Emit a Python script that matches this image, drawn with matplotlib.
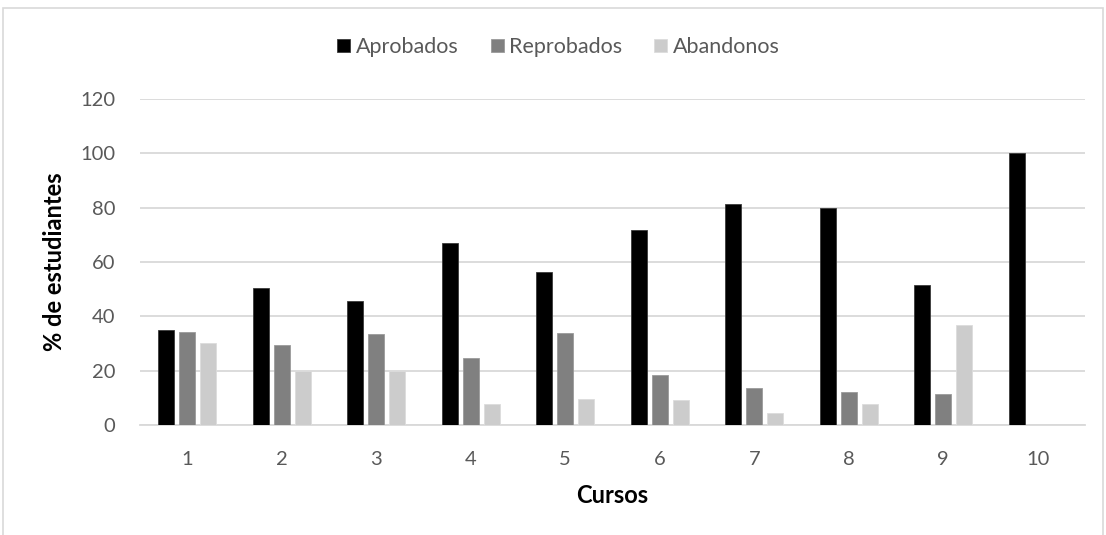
import matplotlib.pyplot as plt
import matplotlib.patches as mpatches
import numpy as np

cursos = ['1', '2', '3', '4', '5', '6', '7', '8', '9', '10']
aprobados = [35.1, 50.3, 45.6, 67.0, 56.2, 71.8, 81.3, 79.8, 51.4, 100.0]
reprobados = [34.1, 29.4, 33.6, 24.7, 33.7, 18.4, 13.6, 12.1, 11.4, 0.0]
abandonos = [30.1, 20.0, 20.0, 7.6, 9.6, 9.2, 4.4, 7.6, 36.7, 0.0]

plt.rcParams['font.family'] = ['Lato', 'DejaVu Sans']

fig = plt.figure(figsize=(11.06, 5.35), dpi=100)
ax = fig.add_axes([0.1266, 0.2056, 0.8544, 0.6094])

x = np.arange(len(cursos))
w = 0.17
step = 0.222
ax.bar(x - step, aprobados, w, color='#000000', edgecolor='#3a3a3a', lw=0.6, label='Aprobados', zorder=3)
ax.bar(x, reprobados, w, color='#808080', edgecolor='#9a9a9a', lw=0.6, label='Reprobados', zorder=3)
ax.bar(x + step, abandonos, w, color='#cccccc', edgecolor='#dcdcdc', lw=0.6, label='Abandonos', zorder=3)

ax.set_xlim(-0.5, len(cursos) - 0.5)
ax.set_ylim(0, 120)
ax.set_yticks(range(0, 121, 20))
ax.set_xticks(x)
ax.set_xticklabels(cursos)
ax.yaxis.grid(True, color='#d9d9d9', lw=1.3, zorder=0)
ax.set_axisbelow(True)
for s in ['top', 'right', 'left']:
    ax.spines[s].set_visible(False)
ax.spines['bottom'].set_color('#d9d9d9')
ax.spines['bottom'].set_linewidth(1.3)
ax.tick_params(axis='both', length=0, labelsize=14.5, labelcolor='#595959')
ax.tick_params(axis='y', pad=18)
ax.tick_params(axis='x', pad=19)

ax.set_xlabel('Cursos', fontsize=17, fontweight='bold', color='#000000', labelpad=11)
ax.set_ylabel('% de estudiantes', fontsize=17, fontweight='bold', color='#000000', labelpad=10)

fig.legend(loc='center', bbox_to_anchor=(0.505, 0.912), ncol=3, frameon=False,
           fontsize=15.5, labelcolor='#595959', handlelength=0.6, handleheight=0.6,
           handletextpad=0.25, columnspacing=1.5)

fig.patches.append(mpatches.Rectangle((0.0027, -0.1), 0.9945, 1.085, transform=fig.transFigure,
                                      fill=False, edgecolor='#d9d9d9', lw=1.2))

fig.savefig('out.png', dpi=100)
